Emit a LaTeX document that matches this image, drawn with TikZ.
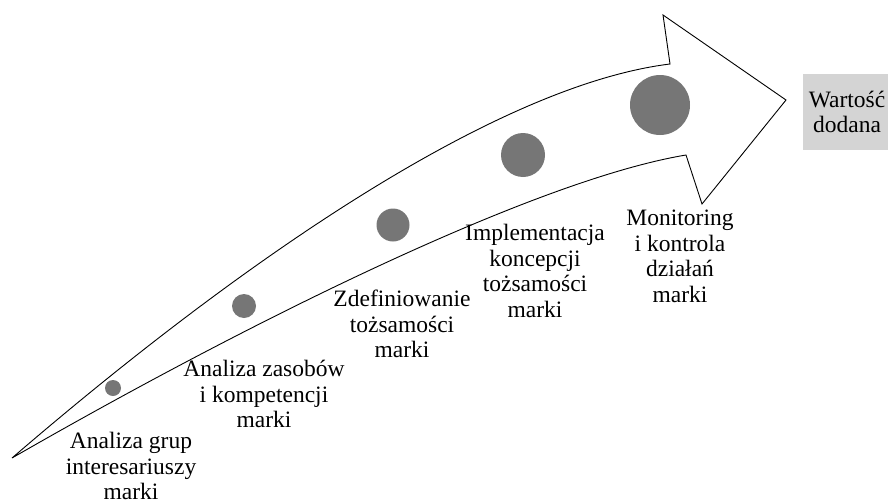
\documentclass[tikz,border=0pt]{standalone}
\usepackage{fontspec}
\setmainfont{Liberation Serif}
\definecolor{dotgray}{RGB}{118,118,118}
\definecolor{boxgray}{RGB}{212,212,212}

\begin{document}
\begin{tikzpicture}[
      x=1pt, y=-1pt,
      every node/.style={font=\fontsize{23.5}{25.5}\selectfont},
      dot/.style={circle, fill=dotgray, inner sep=0pt},
      lbl/.style={align=center, inner sep=0pt, anchor=north},
      outline/.style={draw, line width=0.9pt, line join=miter},
    ]
    \clip (0,0) rectangle (888,503);

    % Arrow outline
    \coordinate (tail) at (12,458);
    \coordinate (ushoulder) at (670,64);
    \coordinate (ucorner) at (663,15);
    \coordinate (tip) at (786,100);
    \coordinate (lcorner) at (702,204);
    \coordinate (lshoulder) at (686,155);
    \draw[outline] (tail) .. controls (249,254) and (500,85) .. (ushoulder)
      -- (ucorner) -- (tip) -- (lcorner) -- (lshoulder)
      .. controls (536,180) and (252,320) .. (tail) -- cycle;

    % Growing dots
    \node[dot, minimum size=16pt] (s1) at (113,388) {};
    \node[dot, minimum size=24pt] (s2) at (244,306) {};
    \node[dot, minimum size=33pt] (s3) at (393,225) {};
    \node[dot, minimum size=44pt] (s4) at (523,155) {};
    \node[dot, minimum size=60pt] (s5) at (660,105) {};

    % Result box
    \node[fill=boxgray, minimum width=88pt, minimum height=76pt, align=center, inner sep=0pt] (wd) at (847,112) {Wartość\\dodana};

    % Stage labels
    \node[lbl] (lgroups) at (131,432) {Analiza grup\\interesariuszy\\marki};
    \node[lbl] (lresources) at (264,360) {Analiza zasobów\\i kompetencji\\marki};
    \node[lbl] (lidentity) at (402,290) {Zdefiniowanie\\tożsamości\\marki};
    \node[lbl] (limpl) at (535,224) {Implementacja\\koncepcji\\tożsamości\\marki};
    \node[lbl] (lmonitor) at (680,210) {Monitoring\\i kontrola\\działań\\marki};
  \end{tikzpicture}
\end{document}
